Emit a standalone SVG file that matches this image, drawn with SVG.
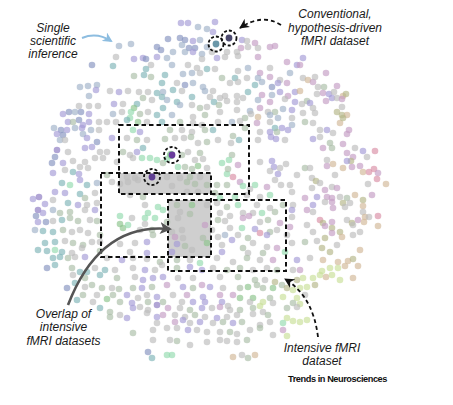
<svg xmlns="http://www.w3.org/2000/svg" width="453" height="405" viewBox="0 0 453 405">
<style>
.a{fill:#a49bd6}.b{fill:#8593c0}.c{fill:#9fb2c9}.d{fill:#7fb5b8}.e{fill:#93dbae}.f{fill:#8cc48c}.g{fill:#aabda7}.h{fill:#bcbcbc}.i{fill:#c49dc4}.j{fill:#d98fa6}.k{fill:#d2b898}.l{fill:#c9df98}.m{fill:#b5b688}.n{fill:#8877c0}
#dots circle{fill-opacity:0.66}
.box{fill:none;stroke:#111;stroke-width:2;stroke-dasharray:4.5 3}
.ring{fill:none;stroke:#111;stroke-width:1.8;stroke-dasharray:3 2}
.lbl{font-family:"Liberation Sans",Arial,Helvetica,sans-serif;font-style:italic;font-size:12px;fill:#1a1a1a;text-anchor:middle}
.dash{fill:none;stroke:#111;stroke-width:1.8;stroke-dasharray:4 3}
</style>
<defs>
<marker id="hb" markerUnits="userSpaceOnUse" markerWidth="12" markerHeight="10" refX="9" refY="5" orient="auto"><path d="M0,0 L10,5 L0,10 L3,5 z" fill="#111"/></marker>
<marker id="hg" markerUnits="userSpaceOnUse" markerWidth="14" markerHeight="12" refX="10" refY="6" orient="auto"><path d="M0,0 L12,6 L0,12 L3,6 z" fill="#555"/></marker>
<marker id="hl" markerUnits="userSpaceOnUse" markerWidth="12" markerHeight="10" refX="8" refY="5" orient="auto"><path d="M0,0 L10,5 L0,10 L3,5 z" fill="#8dbde0"/></marker>
</defs>
<rect width="453" height="405" fill="#fff"/>
<g id="overlaps" fill="#cfcfcf">
<rect x="119" y="173" width="92" height="21"/>
<rect x="168" y="200" width="43" height="57"/>
</g>
<g id="dots">
<circle class="c" cx="119" cy="46" r="3.3"/><circle class="c" cx="131" cy="44" r="3.3"/><circle class="b" cx="157" cy="47" r="3.3"/><circle class="h" cx="116" cy="57" r="3.3"/><circle class="a" cx="134" cy="59" r="3.3"/><circle class="a" cx="143" cy="58" r="3.3"/><circle class="b" cx="146" cy="59" r="3.3"/><circle class="a" cx="157" cy="57" r="3.3"/><circle class="b" cx="92" cy="65" r="3.3"/><circle class="d" cx="113" cy="66" r="3.3"/><circle class="h" cx="151" cy="65" r="3.3"/><circle class="d" cx="146" cy="69" r="3.3"/><circle class="d" cx="144" cy="75" r="3.3"/><circle class="g" cx="151" cy="77" r="3.3"/><circle class="g" cx="134" cy="76" r="3.3"/>
<circle class="c" cx="80" cy="87" r="3.3"/><circle class="c" cx="88" cy="86" r="3.3"/><circle class="c" cx="97" cy="85" r="3.3"/><circle class="a" cx="96" cy="90" r="3.3"/><circle class="h" cx="110" cy="91" r="3.3"/><circle class="a" cx="119" cy="92" r="3.3"/><circle class="h" cx="128" cy="91" r="3.3"/><circle class="h" cx="139" cy="92" r="3.3"/><circle class="h" cx="148" cy="92" r="3.3"/><circle class="d" cx="157" cy="93" r="3.3"/><circle class="c" cx="89" cy="96" r="3.3"/><circle class="g" cx="143" cy="98" r="3.3"/><circle class="h" cx="152" cy="100" r="3.3"/>
<circle class="h" cx="79" cy="106" r="3.3"/><circle class="h" cx="89" cy="106" r="3.3"/><circle class="h" cx="98" cy="106" r="3.3"/><circle class="a" cx="114" cy="104" r="3.3"/><circle class="h" cx="123" cy="104" r="3.3"/><circle class="d" cx="137" cy="104" r="3.3"/><circle class="f" cx="134" cy="108" r="3.3"/><circle class="e" cx="131" cy="112" r="3.3"/><circle class="h" cx="122" cy="112" r="3.3"/><circle class="h" cx="148" cy="112" r="3.3"/><circle class="g" cx="140" cy="114" r="3.3"/>
<circle class="a" cx="63" cy="114" r="3.3"/><circle class="b" cx="69" cy="112" r="3.3"/><circle class="c" cx="75" cy="112" r="3.3"/><circle class="b" cx="81" cy="112" r="3.3"/><circle class="a" cx="89" cy="114" r="3.3"/><circle class="c" cx="113" cy="114" r="3.3"/><circle class="e" cx="130" cy="118" r="3.3"/><circle class="d" cx="157" cy="115" r="3.3"/>
<circle class="a" cx="68" cy="122" r="3.3"/><circle class="g" cx="73" cy="122" r="3.3"/><circle class="b" cx="79" cy="120" r="3.3"/><circle class="a" cx="83" cy="125" r="3.3"/><circle class="a" cx="89" cy="122" r="3.3"/><circle class="h" cx="99" cy="122" r="3.3"/><circle class="h" cx="107" cy="122" r="3.3"/><circle class="h" cx="116" cy="122" r="3.3"/><circle class="d" cx="127" cy="120" r="3.3"/><circle class="f" cx="138" cy="122" r="3.3"/><circle class="h" cx="147" cy="122" r="3.3"/>
<circle class="c" cx="54" cy="128" r="3.3"/><circle class="b" cx="61" cy="130" r="3.3"/><circle class="a" cx="67" cy="130" r="3.3"/><circle class="c" cx="75" cy="128" r="3.3"/><circle class="a" cx="82" cy="128" r="3.3"/><circle class="c" cx="91" cy="130" r="3.3"/><circle class="h" cx="99" cy="130" r="3.3"/><circle class="e" cx="133" cy="130" r="3.3"/><circle class="a" cx="140" cy="132" r="3.3"/><circle class="a" cx="57" cy="134" r="3.3"/><circle class="b" cx="63" cy="135" r="3.3"/><circle class="c" cx="83" cy="134" r="3.3"/>
<circle class="a" cx="181" cy="23" r="3.3"/><circle class="a" cx="188" cy="23" r="3.3"/><circle class="a" cx="215" cy="22" r="3.3"/><circle class="c" cx="198" cy="27" r="3.3"/><circle class="c" cx="207" cy="29" r="3.3"/><circle class="a" cx="213" cy="32" r="3.3"/>
<circle class="b" cx="168" cy="39" r="3.3"/><circle class="b" cx="180" cy="38" r="3.3"/><circle class="b" cx="185" cy="40" r="3.3"/><circle class="a" cx="193" cy="41" r="3.3"/><circle class="c" cx="200" cy="40" r="3.3"/><circle class="a" cx="242" cy="40" r="3.3"/><circle class="h" cx="247" cy="41" r="3.3"/><circle class="i" cx="255" cy="43" r="3.3"/><circle class="i" cx="275" cy="46" r="3.3"/>
<circle class="c" cx="182" cy="45" r="3.3"/><circle class="b" cx="189" cy="48" r="3.3"/><circle class="b" cx="195" cy="48" r="3.3"/><circle class="c" cx="207" cy="47" r="3.3"/><circle class="i" cx="241" cy="48" r="3.3"/><circle class="h" cx="248" cy="47" r="3.3"/><circle class="h" cx="258" cy="48" r="3.3"/><circle class="i" cx="270" cy="47" r="3.3"/>
<circle class="b" cx="161" cy="50" r="3.3"/><circle class="c" cx="173" cy="52" r="3.3"/><circle class="c" cx="185" cy="52" r="3.3"/><circle class="a" cx="193" cy="52" r="3.3"/><circle class="c" cx="202" cy="54" r="3.3"/><circle class="h" cx="212" cy="52" r="3.3"/><circle class="h" cx="227" cy="52" r="3.3"/><circle class="h" cx="237" cy="52" r="3.3"/>
<circle class="c" cx="167" cy="58" r="3.3"/><circle class="h" cx="202" cy="59" r="3.3"/><circle class="a" cx="217" cy="58" r="3.3"/><circle class="h" cx="225" cy="57" r="3.3"/><circle class="h" cx="238" cy="56" r="3.3"/><circle class="i" cx="258" cy="57" r="3.3"/><circle class="i" cx="287" cy="62" r="3.3"/><circle class="a" cx="297" cy="65" r="3.3"/>
<circle class="c" cx="172" cy="65" r="3.3"/><circle class="h" cx="188" cy="65" r="3.3"/><circle class="h" cx="197" cy="68" r="3.3"/><circle class="d" cx="207" cy="69" r="3.3"/><circle class="h" cx="215" cy="69" r="3.3"/><circle class="h" cx="238" cy="71" r="3.3"/><circle class="c" cx="248" cy="68" r="3.3"/><circle class="h" cx="270" cy="68" r="3.3"/><circle class="i" cx="260" cy="73" r="3.3"/>
<circle class="d" cx="165" cy="75" r="3.3"/><circle class="c" cx="183" cy="74" r="3.3"/><circle class="c" cx="192" cy="73" r="3.3"/><circle class="h" cx="200" cy="73" r="3.3"/><circle class="g" cx="222" cy="78" r="3.3"/><circle class="d" cx="235" cy="78" r="3.3"/><circle class="h" cx="247" cy="78" r="3.3"/><circle class="c" cx="258" cy="78" r="3.3"/><circle class="i" cx="270" cy="77" r="3.3"/><circle class="h" cx="280" cy="80" r="3.3"/><circle class="c" cx="290" cy="73" r="3.3"/>
<circle class="d" cx="162" cy="83" r="3.3"/><circle class="h" cx="177" cy="83" r="3.3"/><circle class="b" cx="185" cy="85" r="3.3"/><circle class="c" cx="193" cy="83" r="3.3"/><circle class="c" cx="203" cy="87" r="3.3"/><circle class="h" cx="230" cy="83" r="3.3"/><circle class="h" cx="238" cy="82" r="3.3"/><circle class="d" cx="255" cy="85" r="3.3"/><circle class="c" cx="262" cy="82" r="3.3"/><circle class="b" cx="272" cy="87" r="3.3"/><circle class="a" cx="278" cy="83" r="3.3"/><circle class="i" cx="287" cy="83" r="3.3"/>
<circle class="c" cx="163" cy="92" r="3.3"/><circle class="d" cx="173" cy="90" r="3.3"/><circle class="h" cx="182" cy="91" r="3.3"/><circle class="d" cx="192" cy="97" r="3.3"/><circle class="c" cx="205" cy="91" r="3.3"/><circle class="h" cx="213" cy="91" r="3.3"/><circle class="h" cx="225" cy="96" r="3.3"/><circle class="h" cx="237" cy="96" r="3.3"/><circle class="d" cx="248" cy="92" r="3.3"/><circle class="i" cx="262" cy="95" r="3.3"/><circle class="c" cx="272" cy="95" r="3.3"/><circle class="a" cx="280" cy="92" r="3.3"/><circle class="i" cx="288" cy="96" r="3.3"/><circle class="a" cx="295" cy="92" r="3.3"/>
<circle class="d" cx="162" cy="97" r="3.3"/><circle class="c" cx="167" cy="100" r="3.3"/><circle class="d" cx="177" cy="102" r="3.3"/><circle class="h" cx="210" cy="97" r="3.3"/><circle class="d" cx="214" cy="102" r="3.3"/><circle class="h" cx="220" cy="98" r="3.3"/><circle class="h" cx="227" cy="101" r="3.3"/><circle class="g" cx="219" cy="105" r="3.3"/><circle class="h" cx="207" cy="107" r="3.3"/><circle class="h" cx="237" cy="102" r="3.3"/><circle class="h" cx="243" cy="98" r="3.3"/><circle class="c" cx="258" cy="100" r="3.3"/><circle class="i" cx="270" cy="102" r="3.3"/><circle class="h" cx="285" cy="99" r="3.3"/><circle class="a" cx="295" cy="102" r="3.3"/>
<circle class="d" cx="163" cy="108" r="3.3"/><circle class="c" cx="180" cy="105" r="3.3"/><circle class="h" cx="192" cy="105" r="3.3"/><circle class="g" cx="200" cy="108" r="3.3"/><circle class="h" cx="220" cy="112" r="3.3"/><circle class="h" cx="237" cy="110" r="3.3"/><circle class="c" cx="250" cy="111" r="3.3"/><circle class="i" cx="260" cy="108" r="3.3"/><circle class="h" cx="268" cy="112" r="3.3"/><circle class="g" cx="275" cy="112" r="3.3"/><circle class="c" cx="283" cy="109" r="3.3"/><circle class="a" cx="292" cy="110" r="3.3"/>
<circle class="c" cx="172" cy="115" r="3.3"/><circle class="h" cx="193" cy="117" r="3.3"/><circle class="g" cx="205" cy="115" r="3.3"/><circle class="g" cx="245" cy="118" r="3.3"/><circle class="h" cx="251" cy="114" r="3.3"/><circle class="k" cx="258" cy="117" r="3.3"/><circle class="c" cx="270" cy="115" r="3.3"/><circle class="c" cx="278" cy="118" r="3.3"/><circle class="h" cx="292" cy="118" r="3.3"/>
<circle class="d" cx="162" cy="122" r="3.3"/><circle class="g" cx="180" cy="122" r="3.3"/><circle class="h" cx="193" cy="123" r="3.3"/><circle class="h" cx="202" cy="125" r="3.3"/><circle class="h" cx="218" cy="122" r="3.3"/><circle class="c" cx="232" cy="122" r="3.3"/><circle class="h" cx="240" cy="121" r="3.3"/><circle class="g" cx="245" cy="128" r="3.3"/><circle class="i" cx="257" cy="123" r="3.3"/><circle class="h" cx="270" cy="122" r="3.3"/><circle class="d" cx="275" cy="128" r="3.3"/><circle class="a" cx="282" cy="128" r="3.3"/><circle class="c" cx="292" cy="125" r="3.3"/>
<circle class="g" cx="170" cy="130" r="3.3"/><circle class="h" cx="182" cy="130" r="3.3"/><circle class="h" cx="192" cy="132" r="3.3"/><circle class="g" cx="205" cy="130" r="3.3"/><circle class="d" cx="213" cy="130" r="3.3"/><circle class="h" cx="260" cy="132" r="3.3"/><circle class="a" cx="270" cy="132" r="3.3"/><circle class="g" cx="277" cy="132" r="3.3"/><circle class="a" cx="288" cy="130" r="3.3"/>
<circle class="a" cx="303" cy="58" r="3.3"/><circle class="i" cx="300" cy="65" r="3.3"/><circle class="i" cx="326" cy="73" r="3.3"/><circle class="h" cx="303" cy="78" r="3.3"/><circle class="k" cx="308" cy="80" r="3.3"/><circle class="i" cx="313" cy="82" r="3.3"/><circle class="h" cx="315" cy="77" r="3.3"/><circle class="h" cx="318" cy="87" r="3.3"/><circle class="g" cx="324" cy="87" r="3.3"/><circle class="i" cx="337" cy="86" r="3.3"/><circle class="k" cx="300" cy="91" r="3.3"/><circle class="h" cx="317" cy="94" r="3.3"/><circle class="i" cx="323" cy="93" r="3.3"/><circle class="a" cx="329" cy="94" r="3.3"/><circle class="h" cx="334" cy="92" r="3.3"/><circle class="k" cx="343" cy="96" r="3.3"/><circle class="m" cx="346" cy="94" r="3.3"/>
<circle class="g" cx="307" cy="101" r="3.3"/><circle class="i" cx="326" cy="101" r="3.3"/><circle class="a" cx="332" cy="98" r="3.3"/><circle class="h" cx="337" cy="98" r="3.3"/><circle class="i" cx="342" cy="99" r="3.3"/><circle class="h" cx="302" cy="104" r="3.3"/><circle class="a" cx="310" cy="103" r="3.3"/><circle class="h" cx="313" cy="108" r="3.3"/><circle class="h" cx="342" cy="107" r="3.3"/><circle class="h" cx="303" cy="113" r="3.3"/><circle class="h" cx="315" cy="113" r="3.3"/><circle class="m" cx="337" cy="112" r="3.3"/><circle class="m" cx="342" cy="115" r="3.3"/><circle class="k" cx="347" cy="115" r="3.3"/><circle class="g" cx="305" cy="122" r="3.3"/><circle class="h" cx="313" cy="123" r="3.3"/><circle class="k" cx="340" cy="123" r="3.3"/><circle class="m" cx="343" cy="118" r="3.3"/><circle class="h" cx="320" cy="130" r="3.3"/><circle class="a" cx="327" cy="130" r="3.3"/><circle class="i" cx="349" cy="130" r="3.3"/><circle class="h" cx="333" cy="133" r="3.3"/><circle class="i" cx="347" cy="134" r="3.3"/>
<circle class="c" cx="60" cy="140" r="3.3"/><circle class="h" cx="65" cy="140" r="3.3"/><circle class="a" cx="87" cy="138" r="3.3"/><circle class="b" cx="97" cy="142" r="3.3"/><circle class="a" cx="112" cy="138" r="3.3"/><circle class="h" cx="127" cy="138" r="3.3"/><circle class="g" cx="137" cy="140" r="3.3"/><circle class="h" cx="147" cy="140" r="3.3"/>
<circle class="n" cx="57" cy="150" r="3.3"/><circle class="h" cx="68" cy="152" r="3.3"/><circle class="a" cx="85" cy="148" r="3.3"/><circle class="a" cx="92" cy="147" r="3.3"/><circle class="h" cx="100" cy="152" r="3.3"/><circle class="h" cx="107" cy="152" r="3.3"/><circle class="g" cx="123" cy="152" r="3.3"/><circle class="a" cx="137" cy="152" r="3.3"/><circle class="d" cx="143" cy="148" r="3.3"/><circle class="h" cx="130" cy="155" r="3.3"/>
<circle class="b" cx="55" cy="157" r="3.3"/><circle class="b" cx="52" cy="163" r="3.3"/><circle class="a" cx="63" cy="163" r="3.3"/><circle class="h" cx="73" cy="161" r="3.3"/><circle class="h" cx="85" cy="162" r="3.3"/><circle class="h" cx="95" cy="158" r="3.3"/><circle class="h" cx="103" cy="158" r="3.3"/><circle class="h" cx="117" cy="162" r="3.3"/><circle class="h" cx="133" cy="158" r="3.3"/><circle class="e" cx="142" cy="158" r="3.3"/><circle class="e" cx="150" cy="158" r="3.3"/><circle class="e" cx="157" cy="160" r="3.3"/>
<circle class="a" cx="53" cy="173" r="3.3"/><circle class="h" cx="65" cy="170" r="3.3"/><circle class="d" cx="73" cy="172" r="3.3"/><circle class="h" cx="80" cy="167" r="3.3"/><circle class="h" cx="88" cy="168" r="3.3"/><circle class="a" cx="79" cy="174" r="3.3"/><circle class="g" cx="107" cy="175" r="3.3"/><circle class="h" cx="127" cy="177" r="3.3"/><circle class="h" cx="135" cy="178" r="3.3"/>
<circle class="d" cx="62" cy="183" r="3.3"/><circle class="e" cx="70" cy="185" r="3.3"/><circle class="a" cx="80" cy="180" r="3.3"/><circle class="d" cx="87" cy="185" r="3.3"/><circle class="c" cx="97" cy="183" r="3.3"/><circle class="h" cx="112" cy="182" r="3.3"/><circle class="h" cx="120" cy="184" r="3.3"/><circle class="h" cx="128" cy="182" r="3.3"/><circle class="h" cx="138" cy="180" r="3.3"/>
<circle class="a" cx="55" cy="192" r="3.3"/><circle class="a" cx="65" cy="193" r="3.3"/><circle class="d" cx="80" cy="194" r="3.3"/><circle class="g" cx="85" cy="198" r="3.3"/><circle class="h" cx="95" cy="193" r="3.3"/><circle class="h" cx="130" cy="195" r="3.3"/><circle class="g" cx="143" cy="197" r="3.3"/>
<circle class="a" cx="33" cy="199" r="3.3"/><circle class="n" cx="39" cy="197" r="3.3"/><circle class="a" cx="45" cy="204" r="3.3"/><circle class="h" cx="53" cy="200" r="3.3"/><circle class="d" cx="68" cy="203" r="3.3"/><circle class="a" cx="78" cy="205" r="3.3"/><circle class="h" cx="87" cy="205" r="3.3"/><circle class="h" cx="97" cy="203" r="3.3"/><circle class="h" cx="145" cy="205" r="3.3"/><circle class="e" cx="158" cy="207" r="3.3"/>
<circle class="n" cx="38" cy="210" r="3.3"/><circle class="b" cx="36" cy="216" r="3.3"/><circle class="a" cx="43" cy="213" r="3.3"/><circle class="c" cx="53" cy="210" r="3.3"/><circle class="g" cx="60" cy="213" r="3.3"/><circle class="g" cx="70" cy="212" r="3.3"/><circle class="h" cx="85" cy="210" r="3.3"/><circle class="a" cx="95" cy="210" r="3.3"/><circle class="e" cx="148" cy="213" r="3.3"/>
<circle class="a" cx="38" cy="222" r="3.3"/><circle class="b" cx="46" cy="222" r="3.3"/><circle class="h" cx="53" cy="221" r="3.3"/><circle class="d" cx="62" cy="220" r="3.3"/><circle class="g" cx="70" cy="218" r="3.3"/><circle class="g" cx="78" cy="221" r="3.3"/><circle class="h" cx="90" cy="220" r="3.3"/><circle class="g" cx="97" cy="221" r="3.3"/><circle class="e" cx="120" cy="216" r="3.3"/><circle class="h" cx="132" cy="218" r="3.3"/><circle class="e" cx="145" cy="218" r="3.3"/><circle class="e" cx="155" cy="218" r="3.3"/>
<circle class="c" cx="35" cy="230" r="3.3"/><circle class="d" cx="43" cy="231" r="3.3"/><circle class="d" cx="53" cy="232" r="3.3"/><circle class="g" cx="63" cy="230" r="3.3"/><circle class="h" cx="72" cy="232" r="3.3"/><circle class="h" cx="80" cy="230" r="3.3"/><circle class="h" cx="88" cy="233" r="3.3"/><circle class="f" cx="120" cy="224" r="3.3"/><circle class="f" cx="123" cy="228" r="3.3"/><circle class="e" cx="128" cy="225" r="3.3"/><circle class="h" cx="145" cy="224" r="3.3"/><circle class="h" cx="140" cy="230" r="3.3"/><circle class="g" cx="152" cy="230" r="3.3"/><circle class="g" cx="100" cy="235" r="3.3"/>
<circle class="d" cx="45" cy="243" r="3.3"/><circle class="d" cx="55" cy="242" r="3.3"/><circle class="h" cx="65" cy="241" r="3.3"/><circle class="g" cx="73" cy="243" r="3.3"/><circle class="g" cx="83" cy="245" r="3.3"/><circle class="h" cx="92" cy="242" r="3.3"/><circle class="h" cx="100" cy="242" r="3.3"/><circle class="h" cx="120" cy="244" r="3.3"/><circle class="h" cx="135" cy="243" r="3.3"/><circle class="a" cx="147" cy="242" r="3.3"/><circle class="g" cx="153" cy="235" r="3.3"/>
<circle class="d" cx="38" cy="250" r="3.3"/><circle class="d" cx="47" cy="251" r="3.3"/><circle class="e" cx="55" cy="250" r="3.3"/><circle class="d" cx="62" cy="252" r="3.3"/><circle class="h" cx="72" cy="253" r="3.3"/><circle class="h" cx="82" cy="248" r="3.3"/><circle class="g" cx="100" cy="251" r="3.3"/><circle class="h" cx="130" cy="252" r="3.3"/><circle class="a" cx="147" cy="253" r="3.3"/>
<circle class="g" cx="165" cy="139" r="3.3"/><circle class="h" cx="175" cy="138" r="3.3"/><circle class="h" cx="184" cy="138" r="3.3"/><circle class="g" cx="191" cy="137" r="3.3"/><circle class="h" cx="198" cy="143" r="3.3"/><circle class="g" cx="207" cy="142" r="3.3"/><circle class="h" cx="218" cy="140" r="3.3"/><circle class="h" cx="231" cy="143" r="3.3"/><circle class="g" cx="233" cy="136" r="3.3"/><circle class="d" cx="239" cy="140" r="3.3"/><circle class="h" cx="258" cy="140" r="3.3"/><circle class="a" cx="271" cy="137" r="3.3"/><circle class="a" cx="276" cy="139" r="3.3"/><circle class="h" cx="285" cy="140" r="3.3"/>
<circle class="g" cx="163" cy="163" r="3.3"/><circle class="e" cx="167" cy="159" r="3.3"/><circle class="g" cx="182" cy="155" r="3.3"/><circle class="h" cx="188" cy="152" r="3.3"/><circle class="h" cx="195" cy="160" r="3.3"/><circle class="g" cx="200" cy="153" r="3.3"/><circle class="h" cx="203" cy="159" r="3.3"/><circle class="h" cx="207" cy="168" r="3.3"/><circle class="f" cx="198" cy="166" r="3.3"/><circle class="g" cx="185" cy="167" r="3.3"/><circle class="e" cx="178" cy="167" r="3.3"/><circle class="g" cx="192" cy="169" r="3.3"/>
<circle class="e" cx="222" cy="163" r="3.3"/><circle class="g" cx="232" cy="155" r="3.3"/><circle class="e" cx="229" cy="160" r="3.3"/><circle class="i" cx="238" cy="165" r="3.3"/><circle class="h" cx="260" cy="162" r="3.3"/><circle class="a" cx="272" cy="161" r="3.3"/><circle class="a" cx="274" cy="167" r="3.3"/><circle class="h" cx="280" cy="168" r="3.3"/><circle class="h" cx="286" cy="164" r="3.3"/><circle class="h" cx="270" cy="171" r="3.3"/><circle class="a" cx="278" cy="174" r="3.3"/>
<circle class="e" cx="227" cy="174" r="3.3"/><circle class="j" cx="233" cy="177" r="3.3"/><circle class="i" cx="240" cy="182" r="3.3"/><circle class="g" cx="228" cy="169" r="3.3"/><circle class="e" cx="255" cy="185" r="3.3"/><circle class="i" cx="267" cy="187" r="3.3"/><circle class="h" cx="275" cy="180" r="3.3"/><circle class="h" cx="281" cy="185" r="3.3"/><circle class="h" cx="290" cy="185" r="3.3"/><circle class="h" cx="297" cy="175" r="3.3"/>
<circle class="h" cx="167" cy="177" r="3.3"/><circle class="h" cx="180" cy="178" r="3.3"/><circle class="g" cx="190" cy="177" r="3.3"/><circle class="h" cx="200" cy="177" r="3.3"/><circle class="h" cx="172" cy="186" r="3.3"/><circle class="g" cx="187" cy="182" r="3.3"/><circle class="g" cx="195" cy="184" r="3.3"/><circle class="g" cx="207" cy="185" r="3.3"/><circle class="g" cx="217" cy="185" r="3.3"/><circle class="g" cx="227" cy="185" r="3.3"/><circle class="e" cx="243" cy="186" r="3.3"/><circle class="h" cx="250" cy="189" r="3.3"/>
<circle class="h" cx="187" cy="192" r="3.3"/><circle class="h" cx="198" cy="192" r="3.3"/><circle class="g" cx="215" cy="193" r="3.3"/><circle class="e" cx="220" cy="198" r="3.3"/><circle class="e" cx="235" cy="197" r="3.3"/><circle class="h" cx="247" cy="195" r="3.3"/><circle class="h" cx="260" cy="197" r="3.3"/><circle class="e" cx="270" cy="195" r="3.3"/><circle class="h" cx="292" cy="192" r="3.3"/>
<circle class="g" cx="177" cy="205" r="3.3"/><circle class="f" cx="192" cy="205" r="3.3"/><circle class="h" cx="207" cy="205" r="3.3"/><circle class="h" cx="217" cy="203" r="3.3"/><circle class="g" cx="227" cy="207" r="3.3"/><circle class="e" cx="238" cy="205" r="3.3"/><circle class="h" cx="257" cy="205" r="3.3"/><circle class="h" cx="270" cy="208" r="3.3"/><circle class="g" cx="283" cy="205" r="3.3"/><circle class="h" cx="293" cy="205" r="3.3"/>
<circle class="e" cx="163" cy="210" r="3.3"/><circle class="h" cx="180" cy="212" r="3.3"/><circle class="g" cx="190" cy="214" r="3.3"/><circle class="h" cx="220" cy="213" r="3.3"/><circle class="h" cx="230" cy="216" r="3.3"/><circle class="h" cx="243" cy="213" r="3.3"/><circle class="h" cx="253" cy="213" r="3.3"/><circle class="e" cx="262" cy="213" r="3.3"/><circle class="g" cx="275" cy="212" r="3.3"/><circle class="a" cx="292" cy="210" r="3.3"/>
<circle class="g" cx="167" cy="222" r="3.3"/><circle class="h" cx="178" cy="218" r="3.3"/><circle class="g" cx="218" cy="220" r="3.3"/><circle class="h" cx="225" cy="221" r="3.3"/><circle class="i" cx="243" cy="218" r="3.3"/><circle class="i" cx="249" cy="216" r="3.3"/><circle class="h" cx="260" cy="222" r="3.3"/><circle class="g" cx="268" cy="220" r="3.3"/><circle class="i" cx="280" cy="223" r="3.3"/><circle class="h" cx="292" cy="217" r="3.3"/>
<circle class="h" cx="172" cy="232" r="3.3"/><circle class="h" cx="182" cy="230" r="3.3"/><circle class="i" cx="205" cy="225" r="3.3"/><circle class="h" cx="212" cy="230" r="3.3"/><circle class="h" cx="230" cy="228" r="3.3"/><circle class="e" cx="242" cy="228" r="3.3"/><circle class="a" cx="255" cy="229" r="3.3"/><circle class="j" cx="260" cy="233" r="3.3"/><circle class="g" cx="270" cy="232" r="3.3"/><circle class="h" cx="277" cy="230" r="3.3"/><circle class="i" cx="290" cy="227" r="3.3"/>
<circle class="i" cx="175" cy="237" r="3.3"/><circle class="h" cx="183" cy="238" r="3.3"/><circle class="g" cx="203" cy="238" r="3.3"/><circle class="h" cx="218" cy="237" r="3.3"/><circle class="c" cx="225" cy="235" r="3.3"/><circle class="h" cx="238" cy="235" r="3.3"/><circle class="g" cx="248" cy="238" r="3.3"/><circle class="a" cx="267" cy="235" r="3.3"/><circle class="h" cx="287" cy="235" r="3.3"/>
<circle class="a" cx="177" cy="244" r="3.3"/><circle class="g" cx="185" cy="246" r="3.3"/><circle class="h" cx="192" cy="250" r="3.3"/><circle class="f" cx="207" cy="243" r="3.3"/><circle class="h" cx="222" cy="245" r="3.3"/><circle class="a" cx="232" cy="240" r="3.3"/><circle class="g" cx="243" cy="248" r="3.3"/><circle class="h" cx="253" cy="243" r="3.3"/><circle class="h" cx="267" cy="247" r="3.3"/><circle class="i" cx="277" cy="248" r="3.3"/><circle class="h" cx="292" cy="243" r="3.3"/>
<circle class="a" cx="172" cy="252" r="3.3"/><circle class="a" cx="222" cy="252" r="3.3"/><circle class="h" cx="248" cy="253" r="3.3"/><circle class="g" cx="263" cy="253" r="3.3"/><circle class="e" cx="285" cy="252" r="3.3"/>
<circle class="a" cx="313" cy="139" r="3.3"/><circle class="h" cx="320" cy="137" r="3.3"/><circle class="g" cx="330" cy="143" r="3.3"/><circle class="i" cx="343" cy="144" r="3.3"/><circle class="h" cx="355" cy="148" r="3.3"/><circle class="a" cx="363" cy="151" r="3.3"/><circle class="j" cx="375" cy="151" r="3.3"/><circle class="i" cx="323" cy="148" r="3.3"/><circle class="g" cx="332" cy="148" r="3.3"/><circle class="i" cx="347" cy="153" r="3.3"/><circle class="i" cx="353" cy="157" r="3.3"/><circle class="m" cx="351" cy="161" r="3.3"/><circle class="h" cx="367" cy="157" r="3.3"/>
<circle class="g" cx="305" cy="168" r="3.3"/><circle class="h" cx="310" cy="168" r="3.3"/><circle class="i" cx="327" cy="166" r="3.3"/><circle class="k" cx="333" cy="164" r="3.3"/><circle class="h" cx="327" cy="160" r="3.3"/><circle class="a" cx="347" cy="161" r="3.3"/><circle class="i" cx="352" cy="167" r="3.3"/><circle class="k" cx="343" cy="168" r="3.3"/><circle class="i" cx="360" cy="166" r="3.3"/><circle class="k" cx="363" cy="172" r="3.3"/><circle class="j" cx="369" cy="172" r="3.3"/><circle class="j" cx="374" cy="169" r="3.3"/><circle class="i" cx="378" cy="173" r="3.3"/>
<circle class="h" cx="335" cy="175" r="3.3"/><circle class="h" cx="312" cy="178" r="3.3"/><circle class="m" cx="316" cy="181" r="3.3"/><circle class="h" cx="320" cy="183" r="3.3"/><circle class="j" cx="377" cy="179" r="3.3"/><circle class="k" cx="386" cy="184" r="3.3"/><circle class="h" cx="368" cy="184" r="3.3"/>
<circle class="h" cx="312" cy="188" r="3.3"/><circle class="i" cx="325" cy="190" r="3.3"/><circle class="h" cx="332" cy="187" r="3.3"/><circle class="i" cx="337" cy="188" r="3.3"/><circle class="i" cx="372" cy="195" r="3.3"/><circle class="k" cx="355" cy="195" r="3.3"/>
<circle class="i" cx="305" cy="198" r="3.3"/><circle class="a" cx="317" cy="197" r="3.3"/><circle class="i" cx="327" cy="197" r="3.3"/><circle class="i" cx="332" cy="198" r="3.3"/><circle class="h" cx="340" cy="197" r="3.3"/><circle class="g" cx="347" cy="198" r="3.3"/><circle class="m" cx="363" cy="200" r="3.3"/>
<circle class="a" cx="313" cy="205" r="3.3"/><circle class="h" cx="325" cy="202" r="3.3"/><circle class="i" cx="332" cy="202" r="3.3"/><circle class="m" cx="343" cy="203" r="3.3"/><circle class="h" cx="350" cy="203" r="3.3"/><circle class="k" cx="363" cy="206" r="3.3"/>
<circle class="i" cx="307" cy="210" r="3.3"/><circle class="h" cx="313" cy="212" r="3.3"/><circle class="i" cx="333" cy="208" r="3.3"/><circle class="h" cx="345" cy="207" r="3.3"/><circle class="h" cx="363" cy="212" r="3.3"/><circle class="k" cx="365" cy="217" r="3.3"/><circle class="j" cx="378" cy="216" r="3.3"/>
<circle class="j" cx="320" cy="220" r="3.3"/><circle class="m" cx="323" cy="223" r="3.3"/><circle class="i" cx="332" cy="222" r="3.3"/><circle class="h" cx="347" cy="220" r="3.3"/><circle class="m" cx="352" cy="223" r="3.3"/><circle class="i" cx="358" cy="220" r="3.3"/><circle class="k" cx="364" cy="222" r="3.3"/><circle class="h" cx="369" cy="217" r="3.3"/><circle class="k" cx="378" cy="226" r="3.3"/>
<circle class="h" cx="307" cy="225" r="3.3"/><circle class="i" cx="325" cy="226" r="3.3"/><circle class="m" cx="332" cy="228" r="3.3"/><circle class="h" cx="353" cy="225" r="3.3"/><circle class="h" cx="313" cy="232" r="3.3"/><circle class="i" cx="332" cy="233" r="3.3"/><circle class="m" cx="340" cy="232" r="3.3"/><circle class="h" cx="360" cy="232" r="3.3"/>
<circle class="g" cx="305" cy="242" r="3.3"/><circle class="h" cx="317" cy="241" r="3.3"/><circle class="m" cx="325" cy="238" r="3.3"/><circle class="k" cx="342" cy="237" r="3.3"/><circle class="h" cx="353" cy="235" r="3.3"/><circle class="m" cx="322" cy="248" r="3.3"/><circle class="h" cx="337" cy="245" r="3.3"/><circle class="k" cx="360" cy="250" r="3.3"/><circle class="m" cx="330" cy="252" r="3.3"/>
<circle class="d" cx="53" cy="258" r="3.3"/><circle class="d" cx="60" cy="257" r="3.3"/><circle class="g" cx="68" cy="258" r="3.3"/><circle class="h" cx="75" cy="257" r="3.3"/><circle class="a" cx="85" cy="257" r="3.3"/><circle class="h" cx="107" cy="258" r="3.3"/><circle class="a" cx="122" cy="260" r="3.3"/><circle class="h" cx="133" cy="258" r="3.3"/><circle class="h" cx="147" cy="259" r="3.3"/><circle class="g" cx="160" cy="262" r="3.3"/><circle class="g" cx="177" cy="260" r="3.3"/><circle class="h" cx="190" cy="260" r="3.3"/><circle class="e" cx="200" cy="263" r="3.3"/><circle class="h" cx="217" cy="258" r="3.3"/><circle class="h" cx="233" cy="262" r="3.3"/><circle class="g" cx="247" cy="258" r="3.3"/><circle class="h" cx="260" cy="260" r="3.3"/><circle class="i" cx="273" cy="260" r="3.3"/><circle class="a" cx="297" cy="260" r="3.3"/><circle class="h" cx="310" cy="258" r="3.3"/><circle class="k" cx="323" cy="260" r="3.3"/><circle class="k" cx="338" cy="262" r="3.3"/><circle class="k" cx="348" cy="261" r="3.3"/><circle class="k" cx="358" cy="266" r="3.3"/><circle class="m" cx="353" cy="259" r="3.3"/>
<circle class="b" cx="47" cy="268" r="3.3"/><circle class="d" cx="55" cy="265" r="3.3"/><circle class="g" cx="72" cy="268" r="3.3"/><circle class="d" cx="80" cy="272" r="3.3"/><circle class="d" cx="87" cy="272" r="3.3"/><circle class="h" cx="95" cy="268" r="3.3"/><circle class="d" cx="105" cy="270" r="3.3"/><circle class="h" cx="115" cy="270" r="3.3"/><circle class="h" cx="133" cy="268" r="3.3"/><circle class="a" cx="145" cy="270" r="3.3"/><circle class="h" cx="155" cy="270" r="3.3"/><circle class="h" cx="162" cy="265" r="3.3"/><circle class="g" cx="177" cy="268" r="3.3"/><circle class="a" cx="190" cy="267" r="3.3"/><circle class="a" cx="202" cy="270" r="3.3"/><circle class="h" cx="213" cy="268" r="3.3"/><circle class="g" cx="227" cy="270" r="3.3"/><circle class="g" cx="240" cy="268" r="3.3"/><circle class="h" cx="253" cy="270" r="3.3"/><circle class="h" cx="267" cy="268" r="3.3"/><circle class="g" cx="277" cy="270" r="3.3"/><circle class="h" cx="293" cy="270" r="3.3"/><circle class="i" cx="300" cy="270" r="3.3"/><circle class="l" cx="322" cy="271" r="3.3"/><circle class="l" cx="330" cy="268" r="3.3"/><circle class="l" cx="338" cy="268" r="3.3"/><circle class="k" cx="345" cy="266" r="3.3"/><circle class="k" cx="353" cy="278" r="3.3"/>
<circle class="h" cx="73" cy="275" r="3.3"/><circle class="g" cx="85" cy="278" r="3.3"/><circle class="d" cx="100" cy="275" r="3.3"/><circle class="g" cx="117" cy="278" r="3.3"/><circle class="h" cx="135" cy="277" r="3.3"/><circle class="a" cx="143" cy="280" r="3.3"/><circle class="a" cx="153" cy="278" r="3.3"/><circle class="a" cx="163" cy="277" r="3.3"/><circle class="h" cx="178" cy="278" r="3.3"/><circle class="h" cx="193" cy="278" r="3.3"/><circle class="h" cx="220" cy="277" r="3.3"/><circle class="g" cx="238" cy="277" r="3.3"/><circle class="g" cx="255" cy="280" r="3.3"/><circle class="h" cx="265" cy="280" r="3.3"/><circle class="m" cx="275" cy="282" r="3.3"/><circle class="g" cx="282" cy="285" r="3.3"/><circle class="m" cx="297" cy="280" r="3.3"/><circle class="l" cx="303" cy="278" r="3.3"/><circle class="l" cx="313" cy="278" r="3.3"/><circle class="l" cx="320" cy="275" r="3.3"/><circle class="k" cx="326" cy="277" r="3.3"/><circle class="l" cx="332" cy="275" r="3.3"/><circle class="l" cx="340" cy="280" r="3.3"/>
<circle class="b" cx="67" cy="288" r="3.3"/><circle class="d" cx="75" cy="283" r="3.3"/><circle class="h" cx="85" cy="287" r="3.3"/><circle class="g" cx="92" cy="285" r="3.3"/><circle class="g" cx="102" cy="288" r="3.3"/><circle class="h" cx="112" cy="288" r="3.3"/><circle class="g" cx="119" cy="289" r="3.3"/><circle class="g" cx="133" cy="288" r="3.3"/><circle class="a" cx="142" cy="288" r="3.3"/><circle class="g" cx="152" cy="287" r="3.3"/><circle class="i" cx="167" cy="285" r="3.3"/><circle class="a" cx="183" cy="287" r="3.3"/><circle class="g" cx="193" cy="288" r="3.3"/><circle class="i" cx="202" cy="285" r="3.3"/><circle class="a" cx="210" cy="287" r="3.3"/><circle class="h" cx="223" cy="288" r="3.3"/><circle class="g" cx="240" cy="288" r="3.3"/><circle class="f" cx="248" cy="287" r="3.3"/><circle class="g" cx="257" cy="285" r="3.3"/><circle class="g" cx="263" cy="288" r="3.3"/><circle class="f" cx="273" cy="288" r="3.3"/><circle class="m" cx="287" cy="288" r="3.3"/><circle class="l" cx="293" cy="290" r="3.3"/><circle class="l" cx="300" cy="288" r="3.3"/><circle class="l" cx="307" cy="287" r="3.3"/><circle class="m" cx="315" cy="285" r="3.3"/>
<circle class="g" cx="83" cy="295" r="3.3"/><circle class="h" cx="97" cy="295" r="3.3"/><circle class="g" cx="113" cy="295" r="3.3"/><circle class="a" cx="127" cy="295" r="3.3"/><circle class="h" cx="138" cy="298" r="3.3"/><circle class="h" cx="147" cy="295" r="3.3"/><circle class="a" cx="157" cy="297" r="3.3"/><circle class="h" cx="173" cy="295" r="3.3"/><circle class="i" cx="187" cy="295" r="3.3"/><circle class="a" cx="203" cy="297" r="3.3"/><circle class="i" cx="220" cy="295" r="3.3"/><circle class="i" cx="233" cy="295" r="3.3"/><circle class="f" cx="240" cy="298" r="3.3"/><circle class="f" cx="253" cy="298" r="3.3"/><circle class="g" cx="270" cy="298" r="3.3"/><circle class="l" cx="283" cy="297" r="3.3"/><circle class="l" cx="297" cy="298" r="3.3"/><circle class="h" cx="305" cy="295" r="3.3"/>
<circle class="d" cx="77" cy="300" r="3.3"/><circle class="h" cx="93" cy="302" r="3.3"/><circle class="f" cx="107" cy="299" r="3.3"/><circle class="g" cx="120" cy="302" r="3.3"/><circle class="a" cx="132" cy="303" r="3.3"/><circle class="g" cx="148" cy="302" r="3.3"/><circle class="g" cx="163" cy="302" r="3.3"/><circle class="h" cx="182" cy="302" r="3.3"/><circle class="a" cx="193" cy="302" r="3.3"/><circle class="a" cx="205" cy="302" r="3.3"/><circle class="a" cx="222" cy="302" r="3.3"/><circle class="h" cx="228" cy="306" r="3.3"/><circle class="h" cx="250" cy="302" r="3.3"/><circle class="l" cx="263" cy="302" r="3.3"/><circle class="h" cx="273" cy="303" r="3.3"/><circle class="g" cx="293" cy="303" r="3.3"/><circle class="l" cx="300" cy="304" r="3.3"/>
<circle class="d" cx="100" cy="308" r="3.3"/><circle class="g" cx="110" cy="312" r="3.3"/><circle class="a" cx="133" cy="308" r="3.3"/><circle class="h" cx="140" cy="307" r="3.3"/><circle class="h" cx="148" cy="310" r="3.3"/><circle class="n" cx="157" cy="305" r="3.3"/><circle class="i" cx="168" cy="308" r="3.3"/><circle class="h" cx="180" cy="308" r="3.3"/><circle class="g" cx="190" cy="310" r="3.3"/><circle class="a" cx="202" cy="308" r="3.3"/><circle class="h" cx="212" cy="308" r="3.3"/><circle class="i" cx="220" cy="307" r="3.3"/><circle class="h" cx="230" cy="310" r="3.3"/><circle class="g" cx="240" cy="310" r="3.3"/><circle class="g" cx="253" cy="308" r="3.3"/><circle class="l" cx="260" cy="306" r="3.3"/><circle class="g" cx="287" cy="308" r="3.3"/><circle class="h" cx="297" cy="307" r="3.3"/><circle class="h" cx="263" cy="312" r="3.3"/>
<circle class="g" cx="110" cy="317" r="3.3"/><circle class="h" cx="120" cy="315" r="3.3"/><circle class="a" cx="127" cy="318" r="3.3"/><circle class="h" cx="147" cy="313" r="3.3"/><circle class="a" cx="157" cy="317" r="3.3"/><circle class="i" cx="163" cy="315" r="3.3"/><circle class="h" cx="175" cy="315" r="3.3"/><circle class="h" cx="185" cy="317" r="3.3"/><circle class="g" cx="195" cy="315" r="3.3"/><circle class="h" cx="205" cy="317" r="3.3"/><circle class="a" cx="217" cy="318" r="3.3"/><circle class="h" cx="227" cy="317" r="3.3"/><circle class="h" cx="237" cy="315" r="3.3"/><circle class="h" cx="253" cy="314" r="3.3"/><circle class="g" cx="268" cy="315" r="3.3"/><circle class="l" cx="287" cy="318" r="3.3"/><circle class="l" cx="293" cy="321" r="3.3"/><circle class="l" cx="300" cy="322" r="3.3"/><circle class="l" cx="307" cy="320" r="3.3"/>
<circle class="h" cx="157" cy="323" r="3.3"/><circle class="i" cx="175" cy="322" r="3.3"/><circle class="a" cx="183" cy="320" r="3.3"/><circle class="h" cx="190" cy="323" r="3.3"/><circle class="a" cx="200" cy="322" r="3.3"/><circle class="h" cx="213" cy="323" r="3.3"/><circle class="g" cx="223" cy="322" r="3.3"/><circle class="a" cx="233" cy="323" r="3.3"/><circle class="g" cx="242" cy="322" r="3.3"/><circle class="h" cx="260" cy="325" r="3.3"/><circle class="h" cx="270" cy="322" r="3.3"/><circle class="e" cx="283" cy="323" r="3.3"/>
<circle class="g" cx="133" cy="333" r="3.3"/><circle class="h" cx="153" cy="330" r="3.3"/><circle class="h" cx="167" cy="328" r="3.3"/><circle class="h" cx="177" cy="328" r="3.3"/><circle class="a" cx="188" cy="330" r="3.3"/><circle class="h" cx="197" cy="330" r="3.3"/><circle class="h" cx="207" cy="332" r="3.3"/><circle class="h" cx="220" cy="332" r="3.3"/><circle class="g" cx="230" cy="332" r="3.3"/><circle class="h" cx="237" cy="334" r="3.3"/><circle class="h" cx="250" cy="330" r="3.3"/><circle class="g" cx="260" cy="328" r="3.3"/><circle class="i" cx="283" cy="330" r="3.3"/><circle class="l" cx="287" cy="336" r="3.3"/><circle class="h" cx="273" cy="335" r="3.3"/>
<circle class="h" cx="153" cy="340" r="3.3"/><circle class="h" cx="170" cy="340" r="3.3"/><circle class="g" cx="177" cy="341" r="3.3"/><circle class="h" cx="190" cy="345" r="3.3"/><circle class="h" cx="207" cy="342" r="3.3"/><circle class="h" cx="220" cy="340" r="3.3"/><circle class="h" cx="227" cy="341" r="3.3"/><circle class="h" cx="237" cy="342" r="3.3"/><circle class="g" cx="247" cy="340" r="3.3"/>
<circle class="b" cx="148" cy="352" r="3.3"/><circle class="e" cx="167" cy="355" r="3.3"/><circle class="e" cx="172" cy="355" r="3.3"/><circle class="d" cx="152" cy="358" r="3.3"/><circle class="k" cx="233" cy="357" r="3.3"/><circle class="h" cx="242" cy="355" r="3.3"/><circle class="g" cx="248" cy="358" r="3.3"/><circle class="k" cx="255" cy="355" r="3.3"/>
</g>
<g id="highlights">
<circle cx="171" cy="155" r="4.2" fill="#9ed8a8"/>
<circle cx="172" cy="155" r="3.4" fill="#6a3c9c"/>
<circle cx="152" cy="177" r="3.4" fill="#5f3f92"/>
<circle cx="216" cy="44" r="3.4" fill="#6a97a8"/>
<circle cx="229" cy="38" r="3.4" fill="#4c4a6e"/>
<circle class="ring" cx="172" cy="155" r="8"/>
<circle class="ring" cx="152" cy="177" r="8"/>
<circle class="ring" cx="216" cy="44" r="7.5"/>
<circle class="ring" cx="229" cy="38" r="7.5"/>
</g>
<g id="datasets">
<rect class="box" x="119" y="125" width="130" height="69"/>
<rect class="box" x="101" y="173" width="110" height="84"/>
<rect class="box" x="168" y="200" width="118" height="71"/>
</g>
<g id="connectors">
<path d="M82,38 Q97,32 111,41" fill="none" stroke="#8dbde0" stroke-width="2" marker-end="url(#hl)"/>
<path class="dash" d="M281,25 Q262,13 240,28" marker-end="url(#hb)"/>
<path d="M68,305 Q100,222 170,229" fill="none" stroke="#555" stroke-width="2.6" marker-end="url(#hg)"/>
<path class="dash" d="M318,337 Q313,296 285,279" marker-end="url(#hb)"/>
</g>
<g id="labels">
<text class="lbl" x="53" y="32">Single</text>
<text class="lbl" x="53" y="45">scientific</text>
<text class="lbl" x="53" y="58">inference</text>
<text class="lbl" x="335" y="18">Conventional,</text>
<text class="lbl" x="335" y="31.5">hypothesis-driven</text>
<text class="lbl" x="335" y="45">fMRI dataset</text>
<text class="lbl" x="63.5" y="318">Overlap of</text>
<text class="lbl" x="63.5" y="331">intensive</text>
<text class="lbl" x="63.5" y="344.5">fMRI datasets</text>
<text class="lbl" x="322" y="351.5">Intensive fMRI</text>
<text class="lbl" x="322" y="365">dataset</text>
<text x="288" y="382" font-family="'Liberation Sans',Arial,sans-serif" font-weight="bold" font-size="8.5" letter-spacing="-0.4" fill="#111" textLength="99" lengthAdjust="spacingAndGlyphs">Trends in Neurosciences</text>
</g>
</svg>
